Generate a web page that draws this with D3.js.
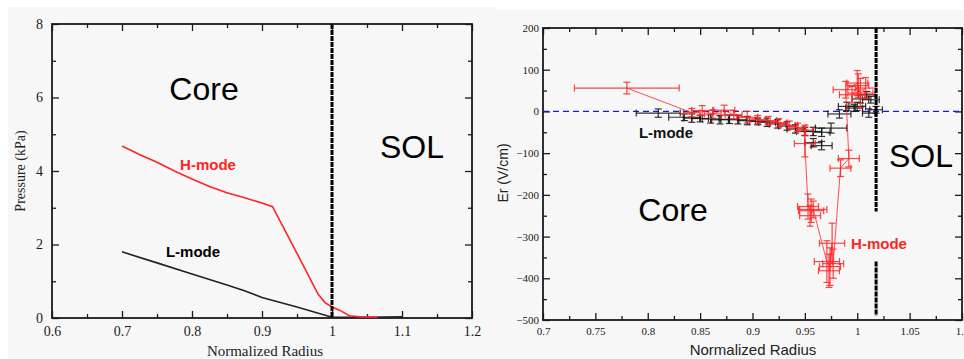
<!DOCTYPE html>
<html>
<head>
<meta charset="utf-8">
<script src="https://cdn.jsdelivr.net/npm/d3@7"></script>
<style>
  body { margin: 0; background: #fff; }
  svg { display: block; }
</style>
</head>
<body>
<svg id="chart" width="964" height="359"></svg>
<script>
// left panel: pressure profiles
const presRadiusH = [0.7, 0.725, 0.75, 0.775, 0.8, 0.825, 0.85, 0.875, 0.9, 0.915, 0.95, 0.98, 0.99, 1.0, 1.01, 1.025, 1.04, 1.065];
const presH = [4.68, 4.45, 4.24, 4.0, 3.78, 3.58, 3.41, 3.27, 3.13, 3.03, 1.76, 0.65, 0.42, 0.3, 0.22, 0.06, 0.03, 0.02];
const presRadiusL = [0.7, 0.75, 0.8, 0.85, 0.875, 0.9, 0.95, 1.0, 1.05, 1.1];
const presL = [1.8, 1.5, 1.2, 0.9, 0.74, 0.56, 0.3, 0.02, 0.02, 0.03];

// right panel: Er with error bars
const erHr  = [0.780, 0.842, 0.852, 0.862, 0.873, 0.882, 0.895, 0.905, 0.915, 0.925, 0.935, 0.943, 0.950, 0.950,
               0.953, 0.956, 0.955, 0.958, 0.971, 0.974, 0.976, 0.973, 0.977, 0.984, 0.992,
               0.989, 1.000, 1.003, 1.008, 0.995, 1.001];
const erH   = [56, -3, 2, -6, 3, -8, -14, -20, -22, -27, -33, -38, -45, -77,
               -228, -238, -250, -235, -360, -372, -316, -382, -365, -136, -113,
               52, 68, 44, 56, 40, 62];
const erHdr = [0.050, 0.008, 0.010, 0.008, 0.010, 0.008, 0.010, 0.008, 0.008, 0.008, 0.008, 0.008, 0.008, 0.010,
               0.010, 0.012, 0.010, 0.013, 0.012, 0.010, 0.012, 0.010, 0.010, 0.010, 0.010,
               0.012, 0.010, 0.012, 0.010, 0.012, 0.010];
const erHdy = [14, 10, 12, 10, 12, 10, 14, 10, 10, 10, 10, 10, 12, 32,
               30, 28, 25, 20, 50, 45, 48, 40, 35, 20, 20,
               20, 30, 35, 25, 20, 28];

const erLr  = [0.810, 0.835, 0.842, 0.850, 0.860, 0.869, 0.878, 0.886, 0.895, 0.905, 0.914, 0.924, 0.933, 0.941,
               0.950, 0.958, 0.966, 0.975, 0.958, 0.966, 0.983, 0.990, 0.997, 1.000, 1.003, 1.009, 1.013, 1.011, 1.018];
const erL   = [-4, -14, -16, -17, -18, -20, -19, -20, -22, -24, -26, -30, -35, -42,
               -48, -48, -50, -40, -75, -82, -6, 12, 8, 12, 30, 40, 28, -4, 4];
const erLdr = [0.021, 0.015, 0.008, 0.008, 0.008, 0.008, 0.008, 0.008, 0.008, 0.008, 0.008, 0.008, 0.008, 0.008,
               0.008, 0.008, 0.008, 0.015, 0.008, 0.010, 0.011, 0.008, 0.008, 0.008, 0.008, 0.008, 0.008, 0.006, 0.006];
const erLdy = [10, 8, 10, 8, 10, 10, 10, 10, 10, 8, 10, 10, 10, 10,
               10, 10, 10, 12, 10, 10, 10, 10, 8, 10, 10, 8, 8, 10, 8];

const xTicksLeft = [0.6, 0.7, 0.8, 0.9, 1, 1.1, 1.2];
const yTicksLeft = [0, 2, 4, 6, 8];
const xTicksRight = [0.7, 0.75, 0.8, 0.85, 0.9, 0.95, 1, 1.05, 1.1];
const yTicksRight = [200, 100, 0, -100, -200, -300, -400, -500];

const svg = d3.select("#chart");
const RED = "#ff2424";
const INK = "#1a1a1a";

svg.append("rect").attr("width", 964).attr("height", 359).attr("fill", "#fff");
svg.append("rect").attr("x", 8).attr("y", 7).attr("width", 487).attr("height", 352).attr("fill", "#f7f7f7");
svg.append("rect").attr("x", 495).attr("y", 10).attr("width", 469).attr("height", 349).attr("fill", "#f7f7f7");

// draws a boxed frame with inward ticks on all four sides
function frame(g, x, y, xMajor, xMinor, yMajor, yMinor, fontSize, padX, padY) {
  const [x0, x1] = x.range();
  const [y1, y0] = y.range();
  const serif = "'Liberation Serif', 'Times New Roman', serif";

  g.append("g").attr("transform", `translate(0,${y1})`)
    .call(d3.axisBottom(x).tickValues(xMajor).tickSize(-7).tickPadding(padX)
      .tickFormat(d => d3.format("")(+d.toFixed(2))));
  g.append("g").attr("transform", `translate(0,${y1})`)
    .call(d3.axisBottom(x).tickValues(xMinor).tickSize(-4).tickFormat(""));
  g.append("g").attr("transform", `translate(0,${y0})`)
    .call(d3.axisTop(x).tickValues(xMajor).tickSize(-7).tickFormat(""));
  g.append("g").attr("transform", `translate(0,${y0})`)
    .call(d3.axisTop(x).tickValues(xMinor).tickSize(-4).tickFormat(""));

  g.append("g").attr("transform", `translate(${x0},0)`)
    .call(d3.axisLeft(y).tickValues(yMajor).tickSize(-7).tickPadding(padY));
  g.append("g").attr("transform", `translate(${x0},0)`)
    .call(d3.axisLeft(y).tickValues(yMinor).tickSize(-4).tickFormat(""));
  g.append("g").attr("transform", `translate(${x1},0)`)
    .call(d3.axisRight(y).tickValues(yMajor).tickSize(-7).tickFormat(""));
  g.append("g").attr("transform", `translate(${x1},0)`)
    .call(d3.axisRight(y).tickValues(yMinor).tickSize(-4).tickFormat(""));

  g.selectAll(".domain").remove();
  g.selectAll(".tick line").attr("stroke", INK).attr("stroke-width", 1.3);
  g.selectAll(".tick text").attr("font-family", serif).attr("font-size", fontSize).attr("fill", INK);

  g.append("rect").attr("x", x0).attr("y", y0).attr("width", x1 - x0).attr("height", y1 - y0)
    .attr("fill", "none").attr("stroke", INK).attr("stroke-width", 1.8);
}

function label(g, txt, x, y, size, opts = {}) {
  return g.append("text").text(txt).attr("x", x).attr("y", y)
    .attr("font-family", opts.family || "'Liberation Sans', Arial, sans-serif")
    .attr("font-size", size)
    .attr("font-weight", opts.bold ? "bold" : "normal")
    .attr("fill", opts.color || "#000")
    .attr("text-anchor", opts.anchor || "start");
}

// ---------- left panel ----------
const gl = svg.append("g");
const xl = d3.scaleLinear().domain([0.6, 1.2]).range([52, 472]);
const yl = d3.scaleLinear().domain([0, 8]).range([318, 24]);

frame(gl, xl, yl, xTicksLeft, d3.range(0.65, 1.2, 0.1), yTicksLeft, [1, 3, 5, 7], 14, 8, 9);

const lineL = d3.line().x(d => xl(d[0])).y(d => yl(d[1]));
gl.append("path").datum(presRadiusL.map((r, i) => [r, presL[i]]))
  .attr("d", lineL).attr("fill", "none").attr("stroke", "#222").attr("stroke-width", 1.6);
gl.append("path").datum(presRadiusH.map((r, i) => [r, presH[i]]))
  .attr("d", lineL).attr("fill", "none").attr("stroke", RED).attr("stroke-width", 1.6);

gl.append("line").attr("x1", xl(1)).attr("x2", xl(1)).attr("y1", yl(8)).attr("y2", yl(0))
  .attr("stroke", "#000").attr("stroke-width", 3).attr("stroke-dasharray", "5,1");

label(gl, "Core", 204, 100, 32, { anchor: "middle" });
label(gl, "SOL", 412, 158, 32, { anchor: "middle" });
label(gl, "H-mode", 208, 170, 15, { bold: true, color: RED, anchor: "middle" });
label(gl, "L-mode", 193, 257, 15, { bold: true, anchor: "middle" });
label(gl, "Normalized Radius", 265, 356, 15, { family: "'Liberation Serif', serif", anchor: "middle" })
  .attr("fill", "#222");
label(gl, "Pressure (kPa)", 0, 0, 14, { family: "'Liberation Serif', serif", anchor: "middle" })
  .attr("transform", "translate(25,171) rotate(-90)").attr("fill", "#222");

// ---------- right panel ----------
const gr = svg.append("g");
const xr = d3.scaleLinear().domain([0.7, 1.1]).range([543, 962]);
const yr = d3.scaleLinear().domain([-500, 200]).range([320, 28]);

svg.append("defs").append("clipPath").attr("id", "clipR")
  .append("rect").attr("x", 543).attr("y", 28).attr("width", 419).attr("height", 292);

frame(gr, xr, yr, xTicksRight, d3.range(0.725, 1.1, 0.05), yTicksRight, d3.range(150, -500, -100), 11, 7, 4);

const plot = gr.append("g").attr("clip-path", "url(#clipR)");

plot.append("line").attr("x1", xr(0.7)).attr("x2", xr(1.1)).attr("y1", yr(0)).attr("y2", yr(0))
  .attr("stroke", "#1b1bd0").attr("stroke-width", 1.3).attr("stroke-dasharray", "6,4");

function errorBars(g, rs, vs, drs, dys, color) {
  const pts = rs.map((r, i) => ({ r, v: vs[i], dr: drs[i], dy: dys[i] }));
  const cap = 3.5;
  const grp = g.append("g").attr("stroke", color).attr("stroke-width", 1.2).attr("stroke-opacity", 0.85);
  pts.forEach(p => {
    const cx = xr(p.r), cy = yr(p.v);
    const xa = xr(p.r - p.dr), xb = xr(p.r + p.dr);
    const ya = yr(p.v + p.dy), yb = yr(p.v - p.dy);
    grp.append("line").attr("x1", xa).attr("x2", xb).attr("y1", cy).attr("y2", cy);
    grp.append("line").attr("x1", xa).attr("x2", xa).attr("y1", cy - cap).attr("y2", cy + cap);
    grp.append("line").attr("x1", xb).attr("x2", xb).attr("y1", cy - cap).attr("y2", cy + cap);
    grp.append("line").attr("x1", cx).attr("x2", cx).attr("y1", ya).attr("y2", yb);
    grp.append("line").attr("x1", cx - cap).attr("x2", cx + cap).attr("y1", ya).attr("y2", ya);
    grp.append("line").attr("x1", cx - cap).attr("x2", cx + cap).attr("y1", yb).attr("y2", yb);
  });
}

errorBars(plot, erLr, erL, erLdr, erLdy, "#111");

const lineR = d3.line().x(d => xr(d[0])).y(d => yr(d[1]));
plot.append("path").datum(erHr.map((r, i) => [r, erH[i]]))
  .attr("d", lineR).attr("fill", "none").attr("stroke", RED).attr("stroke-width", 1).attr("stroke-opacity", 0.8);
errorBars(plot, erHr, erH, erHdr, erHdy, RED);

const sep = 1.018;
[[200, -240], [-360, -490]].forEach(([a, b]) => {
  gr.append("line").attr("x1", xr(sep)).attr("x2", xr(sep)).attr("y1", yr(a)).attr("y2", yr(b))
    .attr("stroke", "#000").attr("stroke-width", 3).attr("stroke-dasharray", "5,1");
});

label(gr, "Core", 673, 221, 32, { anchor: "middle" });
label(gr, "SOL", 921, 167, 32, { anchor: "middle" });
label(gr, "L-mode", 666, 138, 15, { bold: true, anchor: "middle" }).attr("fill", "#111");
label(gr, "H-mode", 879, 249, 15, { bold: true, color: RED, anchor: "middle" });
label(gr, "Normalized Radius", 753, 355, 15, { anchor: "middle" }).attr("fill", "#222");
label(gr, "Er (V/cm)", 0, 0, 14, { anchor: "middle" })
  .attr("transform", "translate(508,173) rotate(-90)").attr("fill", "#222");
</script>
</body>
</html>
